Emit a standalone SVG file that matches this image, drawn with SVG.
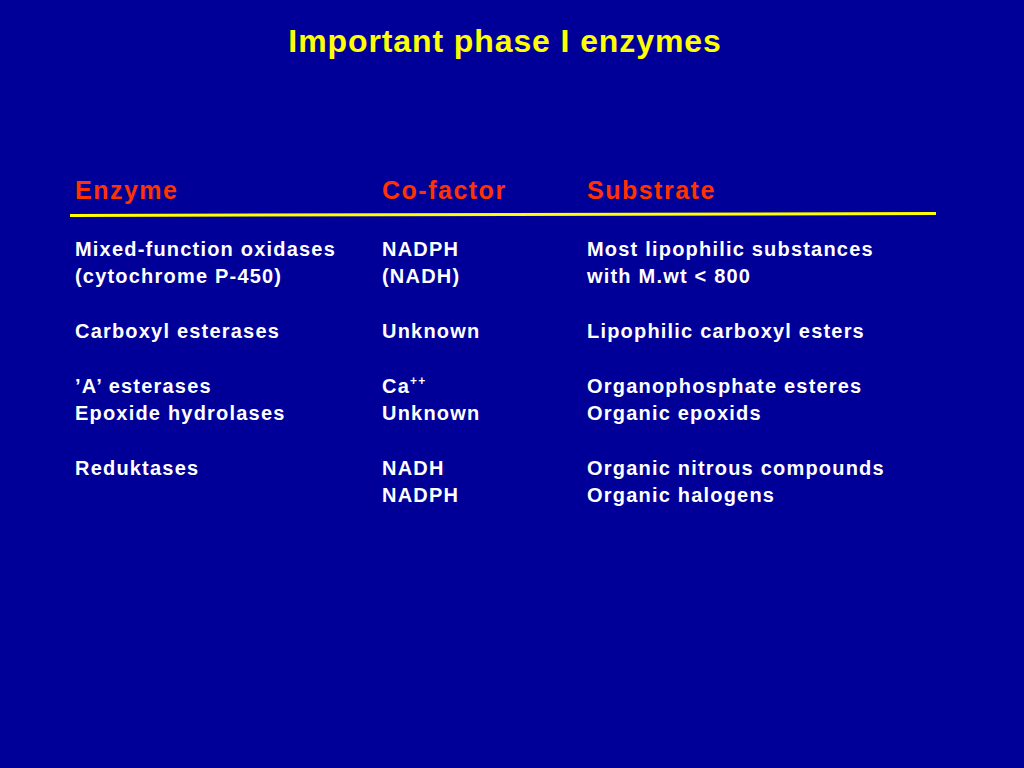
<svg xmlns="http://www.w3.org/2000/svg" width="1024" height="768" viewBox="0 0 1024 768">
<style>
.t{font-family:"Liberation Sans",Arial,sans-serif;font-weight:bold;fill:#fff;font-size:20px;letter-spacing:1.2px}
.h{font-family:"Liberation Sans",Arial,sans-serif;font-weight:bold;fill:#FF3300;font-size:25px;letter-spacing:1.5px}
.ti{font-family:"Liberation Sans",Arial,sans-serif;font-weight:bold;fill:#FFFF00;font-size:32px;letter-spacing:0.9px}
</style>
<rect width="1024" height="768" fill="#000099"/>
<text class="ti" x="505" y="52" text-anchor="middle">Important phase I enzymes</text>
<text class="h" x="75" y="199">Enzyme</text>
<text class="h" x="382" y="199">Co-factor</text>
<text class="h" x="587" y="199">Substrate</text>
<path d="M70 215.5 L936 213.5" stroke="#FFFF00" stroke-width="3"/>
<g>
<text class="t" x="75" y="256">Mixed-function oxidases</text>
<text class="t" x="75" y="283">(cytochrome P-450)</text>
<text class="t" x="75" y="338">Carboxyl esterases</text>
<text class="t" x="75" y="393">’A’ esterases</text>
<text class="t" x="75" y="420">Epoxide hydrolases</text>
<text class="t" x="75" y="475">Reduktases</text>
<text class="t" x="382" y="256">NADPH</text>
<text class="t" x="382" y="283">(NADH)</text>
<text class="t" x="382" y="338">Unknown</text>
<text class="t" x="382" y="393">Ca<tspan font-size="12" dy="-8">++</tspan></text>
<text class="t" x="382" y="420">Unknown</text>
<text class="t" x="382" y="475">NADH</text>
<text class="t" x="382" y="502">NADPH</text>
<text class="t" x="587" y="256">Most lipophilic substances</text>
<text class="t" x="587" y="283">with M.wt &lt; 800</text>
<text class="t" x="587" y="338">Lipophilic carboxyl esters</text>
<text class="t" x="587" y="393">Organophosphate esteres</text>
<text class="t" x="587" y="420">Organic epoxids</text>
<text class="t" x="587" y="475">Organic nitrous compounds</text>
<text class="t" x="587" y="502">Organic halogens</text>
</g>
</svg>
